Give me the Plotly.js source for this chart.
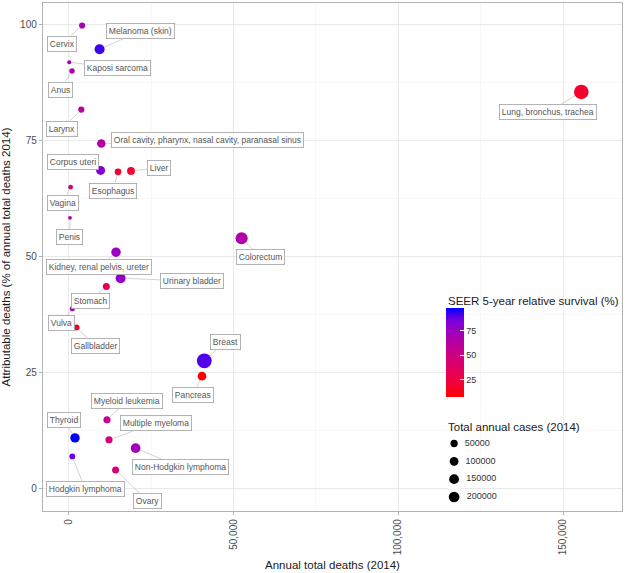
<!DOCTYPE html>
<html>
<head>
<meta charset="utf-8">
<script src="https://cdn.plot.ly/plotly-3.0.1.min.js"></script>
<style>html,body{margin:0;padding:0;background:#fff;}#chart{width:625px;height:573px;}</style>
</head>
<body>
<div id="chart"></div>
<script>
// ---- data ----
const cancerSites = [
  "Cervix", "Melanoma (skin)", "Kaposi sarcoma", "Anus", "Larynx",
  "Oral cavity, pharynx, nasal cavity, paranasal sinus", "Corpus uteri", "Esophagus", "Liver", "Vagina",
  "Penis", "Colorectum", "Kidney, renal pelvis, ureter", "Urinary bladder", "Stomach",
  "Vulva", "Gallbladder", "Breast", "Pancreas", "Myeloid leukemia",
  "Thyroid", "Multiple myeloma", "Non-Hodgkin lymphoma", "Hodgkin lymphoma", "Ovary",
  "Lung, bronchus, trachea"
];
const annualDeaths = [
  4100, 9400, 200, 1030, 3850,
  9920, 9710, 14990, 18930, 610,
  420, 52490, 14380, 15780, 11440,
  1120, 2430, 41170, 40470, 11650,
  1940, 12260, 20330, 1120, 14260,
  155550
];
const attributablePct = [
  99.8, 94.7, 91.9, 90.0, 81.7,
  74.4, 68.6, 68.3, 68.5, 65.0,
  58.4, 54.0, 51.0, 45.4, 43.6,
  38.8, 34.8, 27.6, 24.3, 14.9,
  11.0, 10.6, 8.8, 7.0, 4.1,
  85.5
];
const survival5yr = [
  68, 92, 72, 66, 61,
  64, 82, 18, 17, 47,
  66, 65, 74, 77, 29,
  71, 17, 90, 7, 58,
  98, 47, 71, 87, 45,
  17
];
const annualCases = [
  12360, 76100, 1900, 7210, 12630,
  45000, 52630, 18170, 33190, 3170,
  1640, 136830, 63920, 74690, 22220,
  4850, 10650, 235030, 46420, 24000,
  62980, 24050, 70800, 9190, 21980,
  224210
];
const sizeLegendValues = [50000, 100000, 150000, 200000];
const colorbarTicks = [25, 50, 75];
const xTicks = [0, 50000, 100000, 150000];
const yTicks = [0, 25, 50, 75, 100];

// ---- styles / layout helpers (not data) ----
// label offsets (pixels, label centre relative to point)
const labelOffsets = [
  [-20, 18], [41, -18], [48, 6], [-12, 19], [-19, 19],
  [106, -3], [-28, -8], [-5, 19], [28, -3], [-8, 16],
  [0, 19], [19, 19], [-17, 15], [71, 3], [-16, 14],
  [-11, 14], [19, 19], [21, -19], [-9, 19], [20, -19],
  [-11, -18], [47, -17], [45, 19], [13, 33], [32, 31],
  [-33, 20]
];

const FONT = "Liberation Sans, Arial, Helvetica, sans-serif";
const cMin = Math.min(...annualCases), cMax = Math.max(...annualCases);
const pointDiameter = c => 3.8 + 11 * Math.sqrt((c - cMin) / (cMax - cMin));
const legendDiameter = c => 4.0 + 7.3 * Math.sqrt((c - cMin) / (cMax - cMin));

// ggplot-like red->blue gradient (Lab interpolated)
const colorscale = [
  [0, "#FF0000"], [0.125, "#F40031"], [0.25, "#E8004F"], [0.375, "#DA006C"],
  [0.5, "#CA0089"], [0.625, "#B500A5"], [0.75, "#9A00C3"], [0.875, "#7300E1"], [1, "#0000FF"]
];

const sizes = annualCases.map(pointDiameter);

const mainTrace = {
  type: "scatter",
  mode: "markers",
  x: annualDeaths,
  y: attributablePct,
  text: cancerSites,
  hoverinfo: "none",
  showlegend: false,
  cliponaxis: false,
  marker: {
    size: sizes,
    sizemode: "diameter",
    opacity: 1,
    color: survival5yr,
    colorscale: colorscale,
    line: {width: 0},
    showscale: true,
    colorbar: {
      x: 0.696, xanchor: "left", xpad: 0,
      y: 0.3114, yanchor: "middle", ypad: 0,
      len: 89, lenmode: "pixels",
      thickness: 17.6, thicknessmode: "pixels",
      outlinewidth: 0,
      tickvals: colorbarTicks,
      ticks: "inside", ticklen: 4, tickcolor: "#ffffff", tickwidth: 1,
      tickfont: {family: FONT, size: 9, color: "#333333"},
      title: {text: ""}
    }
  }
};

const legendLabels = sizeLegendValues.map(v => String(v));
const sizeLegendTrace = {
  type: "scatter",
  mode: "markers+text",
  x: sizeLegendValues.map(() => 0),
  y: legendLabels,
  text: legendLabels.map(s => "  " + s),
  textposition: "middle right",
  textfont: {family: FONT, size: 9, color: "#333333"},
  xaxis: "x2", yaxis: "y2",
  hoverinfo: "none",
  showlegend: false,
  cliponaxis: false,
  marker: {size: sizeLegendValues.map(legendDiameter), opacity: 1, color: "#000000", line: {width: 0}}
};

const annotations = cancerSites.map((name, i) => ({
  x: annualDeaths[i], y: attributablePct[i], xref: "x", yref: "y",
  text: name,
  showarrow: true, arrowhead: 0, arrowwidth: 0.8, arrowcolor: "#c8c8c8",
  ax: labelOffsets[i][0], ay: labelOffsets[i][1],
  standoff: sizes[i] / 2,
  font: {family: FONT, size: 8.5, color: "#555555"},
  bgcolor: "#ffffff", bordercolor: "#a0a0a0", borderwidth: 0.8, borderpad: 2
}));

annotations.push({
  xref: "paper", yref: "paper", x: 0.696, y: 0.4134, xanchor: "left", yanchor: "middle",
  text: "SEER 5-year relative survival (%)", showarrow: false,
  font: {family: FONT, size: 11.5, color: "#1a1a1a"}
});
annotations.push({
  xref: "paper", yref: "paper", x: 0.696, y: 0.1654, xanchor: "left", yanchor: "middle",
  text: "Total annual cases (2014)", showarrow: false,
  font: {family: FONT, size: 11.5, color: "#1a1a1a"}
});

const axisCommon = {
  ticks: "outside", ticklen: 3, tickwidth: 1, tickcolor: "#b3b3b3",
  tickfont: {family: FONT, size: 10, color: "#4d4d4d"},
  showgrid: true, gridcolor: "#e3e3e3", gridwidth: 0.7,
  zeroline: false, showline: true, mirror: true, linecolor: "#b3b3b3", linewidth: 1.2,
  automargin: false
};

const layout = {
  width: 625, height: 573,
  margin: {l: 42.7, r: 3.3, t: 2.7, b: 62.3},
  paper_bgcolor: "#ffffff", plot_bgcolor: "#ffffff",
  font: {family: FONT},
  hovermode: false,
  xaxis: Object.assign({}, axisCommon, {
    range: [-7770, 167900],
    tickvals: xTicks, tickformat: ",", tickangle: -90,
    minor: {tick0: 0, dtick: 25000, showgrid: true, gridcolor: "#f1f1f1", gridwidth: 0.5, ticks: ""},
    title: {text: "Annual total deaths (2014)", font: {family: FONT, size: 11.5, color: "#1a1a1a"}, standoff: 6}
  }),
  yaxis: Object.assign({}, axisCommon, {
    range: [-4.74, 104.65],
    tickvals: yTicks,
    minor: {tick0: 0, dtick: 12.5, showgrid: true, gridcolor: "#f1f1f1", gridwidth: 0.5, ticks: ""},
    title: {text: "Attributable deaths (% of annual total deaths 2014)", font: {family: FONT, size: 11.5, color: "#1a1a1a"}, standoff: 8}
  }),
  xaxis2: {domain: [0.70, 0.72], range: [-1, 1], visible: false, anchor: "y2", fixedrange: true},
  yaxis2: {domain: [0.0073, 0.149], type: "category", categoryorder: "array", categoryarray: legendLabels,
           autorange: "reversed", visible: false, anchor: "x2", fixedrange: true},
  shapes: [{
    type: "rect", xref: "paper", yref: "paper",
    x0: 0.674, x1: 0.995, y0: 0.005, y1: 0.444,
    fillcolor: "#ffffff", line: {width: 0}, layer: "between"
  }],
  annotations: annotations
};

Plotly.newPlot("chart", [mainTrace, sizeLegendTrace], layout, {displayModeBar: false, staticPlot: true});
</script>
</body>
</html>
